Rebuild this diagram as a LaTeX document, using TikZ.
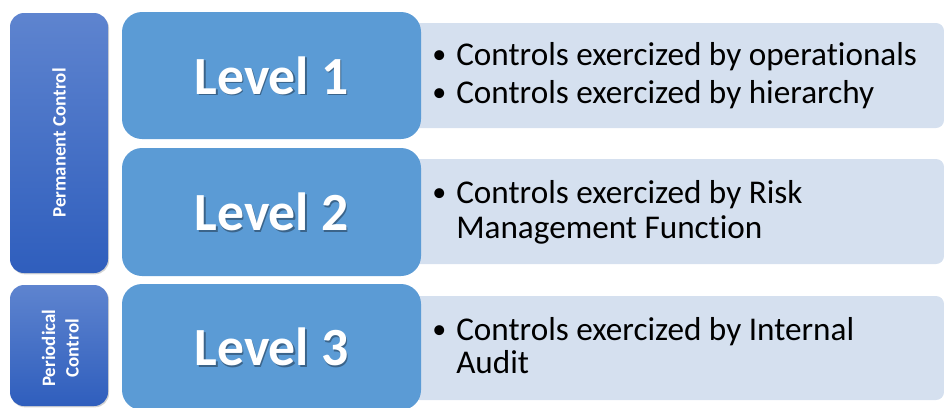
\documentclass[tikz,border=0pt]{standalone}
\usepackage{fontspec}
\setmainfont{Carlito}[Ligatures=NoCommon]
\usetikzlibrary{shadows}
\definecolor{barTop}{HTML}{5E84CF}
\definecolor{barBot}{HTML}{2F5EBD}
\definecolor{lvl}{HTML}{5B9BD5}
\definecolor{desc}{HTML}{D5E0EF}
\tikzset{
  barbox/.style={rounded corners=10.5pt, top color=barTop, bottom color=barBot, draw=none,
    minimum width=73.5pt, inner sep=0pt,
    drop shadow={shadow xshift=0.8pt, shadow yshift=-1pt, opacity=0.35}},
  bartext/.style={text=white, font=\bfseries\fontsize{14.2}{17.5}\selectfont, rotate=90, align=center, inner sep=0pt},
  lvlbox/.style={rounded corners=15pt, fill=lvl, draw=none, minimum width=224.25pt, inner sep=0pt},
  descbox/.style={rounded corners=6pt, fill=desc, draw=none, minimum width=408pt, minimum height=78.75pt, inner sep=0pt},
  lvltext/.style={text=white, font=\bfseries\fontsize{40.3}{46}\selectfont, inner sep=0pt},
  lvlshadow/.style={text=black, opacity=0.35, font=\bfseries\fontsize{40.3}{46}\selectfont, inner sep=0pt},
  itemtext/.style={anchor=base west, font=\fontsize{24.9}{30}\selectfont, inner sep=0pt, text=black},
  bullettext/.style={anchor=base west, font=\fontsize{21}{25}\selectfont, inner sep=0pt, text=black},
}
\begin{document}
\begin{tikzpicture}[x=0.75pt,y=-0.75pt]
\useasboundingbox (0,0) rectangle (944,407);
\clip (0,0) rectangle (944,407);

% description boxes (behind the level boxes)
\node[descbox] (d1) at (672,75.5) {};
\node[descbox] (d2) at (672,211.5) {};
\node[descbox, minimum height=78pt] (d3) at (672,348) {};

% left bars
\node[barbox, minimum height=195pt] (perm) at (59,143) {};
\node[barbox, minimum height=90.75pt] (peri) at (59,345.5) {};
\node[bartext] (permt) at (perm.center) {Permanent Control};
\node[bartext] (perit) at ([xshift=1pt, yshift=-2pt]peri.center) {Periodical\\Control};

% level boxes
\node[lvlbox, minimum height=95.25pt] (l1) at (271.5,75.5) {};
\node[lvlbox, minimum height=96pt] (l2) at (271.5,212) {};
\node[lvlbox, minimum height=94.5pt] (l3) at (271.5,347) {};

\foreach \n/\t in {l1/Level 1, l2/Level 2, l3/Level 3}{
  \node[lvlshadow] (\n s) at ([xshift=1.3pt, yshift=-1.3pt]\n.center) {\t};
  \node[lvltext] (\n t) at (\n.center) {\t};
}

% bullet items
\node[bullettext] (b1) at (432,63) {•};
\node[itemtext] (i1) at (456,65) {Controls exercized by operationals};
\node[bullettext] (b2) at (432,101) {•};
\node[itemtext] (i2) at (456,103) {Controls exercized by hierarchy};
\node[bullettext] (b3) at (432,201) {•};
\node[itemtext] (i3) at (456,203) {Controls exercized by Risk};
\node[itemtext] (i3b) at (456,238) {Management Function};
\node[bullettext] (b4) at (432,338) {•};
\node[itemtext] (i4) at (456,340) {Controls exercized by Internal};
\node[itemtext] (i4b) at (456,373) {Audit};
\end{tikzpicture}
\end{document}
